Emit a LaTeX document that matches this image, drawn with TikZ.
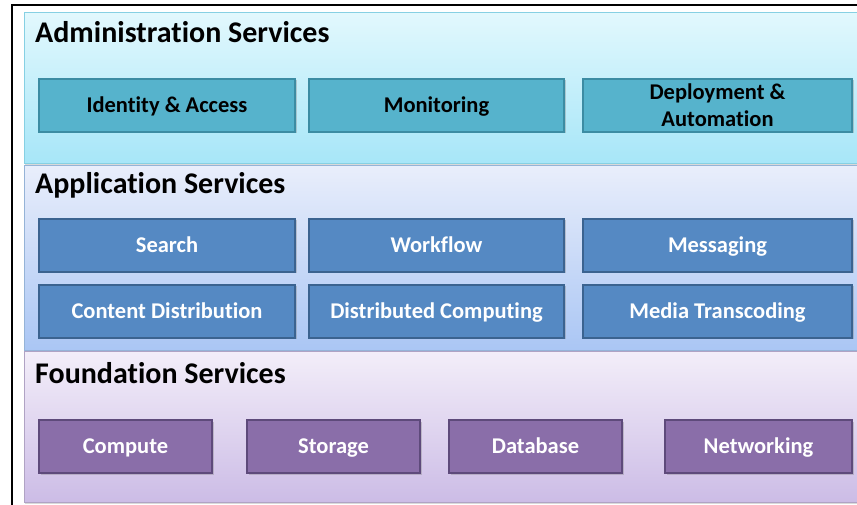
\documentclass[tikz,border=0pt]{standalone}
\usepackage{fontspec}
\setmainfont{Carlito}[Ligatures=CommonOff]
\usepackage{xcolor}
\usetikzlibrary{positioning,shadows}

\definecolor{admtop}{HTML}{E2F8FD}
\definecolor{admbot}{HTML}{A7E6F8}
\definecolor{admedge}{HTML}{86D0E3}
\definecolor{admfill}{HTML}{56B3CC}
\definecolor{admline}{HTML}{3C8CA3}
\definecolor{apptop}{HTML}{E9EEFB}
\definecolor{appbot}{HTML}{AAC6F4}
\definecolor{appedge}{HTML}{95B3D7}
\definecolor{appfill}{HTML}{5589C3}
\definecolor{appline}{HTML}{3B6390}
\definecolor{fndtop}{HTML}{F3EEF9}
\definecolor{fndbot}{HTML}{CCBCE6}
\definecolor{fndedge}{HTML}{B0A3C4}
\definecolor{fndfill}{HTML}{8A6EA9}
\definecolor{fndline}{HTML}{5E4A7B}

\begin{document}
\begin{tikzpicture}[x=1pt,y=-1pt,
  band/.style 2 args={
   draw=#2,
   line width=1pt,
   top color=#1top,
   bottom color=#1bot,
   drop shadow={shadow xshift=0pt,shadow yshift=-1.5pt,opacity=0.3}
  },
  title/.style={
   anchor=base west,
   inner sep=0pt,
   font=\fontsize{30}{36}\selectfont\bfseries
  },
  svc/.style={
   line width=2pt,
   minimum height=53pt,
   inner sep=0pt,
   outer sep=0pt,
   text height=14.5pt,
   text depth=0pt,
   align=center,
   font=\fontsize{22.5}{27}\selectfont\bfseries,
   drop shadow={shadow xshift=1.5pt,shadow yshift=-1.5pt,opacity=0.35}
  },
  adm/.style={svc,fill=admfill,draw=admline,text=black,minimum width=#1},
  app/.style={svc,fill=appfill,draw=appline,text=white,minimum width=#1},
  fnd/.style={svc,fill=fndfill,draw=fndline,text=white,minimum width=#1}]

	\useasboundingbox (0,0) rectangle (857,505);
	\clip (0,0) rectangle (857,505);

	% layer bands
	\path[band={adm}{admedge}] (24.5,12.5) rectangle (880,163.5);
	\path[band={app}{appedge}] (24.5,165.5) rectangle (880,350.5);
	\path[band={fnd}{fndedge}] (24.5,351.5) rectangle (880,502);

	\draw[line width=1.5pt] (12,520) -- (12,5) -- (880,5);

	% titles
	\node[title] (admtitle) at (35,43) {Administration Services};
	\node[title] (apptitle) at (35,194) {Application Services};
	\node[title] (fndtitle) at (35,383) {Foundation Services};

	% administration
	\node[adm=256pt] at (167,105.5) 
		  (ident) {Identity \& Access};
	\node[adm=255pt,right=14pt of ident] 
		  (monit) {Monitoring};
	\node[adm=269pt,right=19pt of monit,text height=,text depth=] 
		  (deploy) {Deployment \&\\Automation};

	% application
	\node[app=256pt] at (167,245.5) 
		  (search) {Search};
	\node[app=255pt,right=14pt of search] 
		  (workfl) {Workflow};
	\node[app=269pt,right=19pt of workfl] 
		  (messag) {Messaging};
	\node[app=256pt] at (167,311) 
		  (content) {Content Distribution};
	\node[app=255pt,right=14pt of content] 
		  (distcomp) {Distributed Computing};
	\node[app=269pt,right=19pt of distcomp] 
		  (media) {Media Transcoding};

	% foundation
	\node[fnd=173pt] at (125.5,446.5) 
		  (compute) {Compute};
	\node[fnd=173pt,right=35pt of compute] 
		  (storage) {Storage};
	\node[fnd=173pt,right=29pt of storage] 
		  (dbase) {Database};
	\node[fnd=187pt,right=43pt of dbase] 
		  (network) {Networking};
\end{tikzpicture}
\end{document}
